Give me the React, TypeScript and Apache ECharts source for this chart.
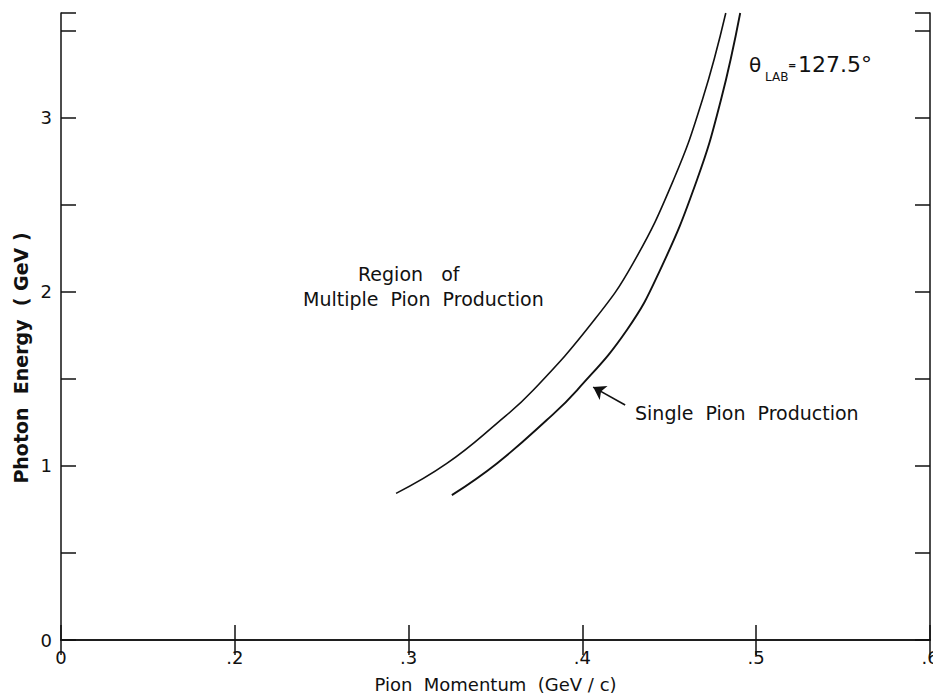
import React, { useEffect, useRef } from "react";
import * as echarts from "echarts";

// Threshold curves (pion momentum GeV/c, photon energy GeV)
const multiMomentum = [0.2928, 0.322, 0.3508, 0.3718, 0.4068, 0.4292, 0.4524, 0.469, 0.4825];
const multiEnergy = [0.842, 1.014, 1.244, 1.435, 1.837, 2.164, 2.641, 3.1, 3.6];
const singleMomentum = [0.3249, 0.3508, 0.3795, 0.397, 0.4256, 0.4447, 0.4659, 0.4797, 0.4908];
const singleEnergy = [0.832, 1.014, 1.263, 1.435, 1.78, 2.124, 2.641, 3.1, 3.6];

// Axis tick labels (suppressed-zero momentum axis: first tick labelled "0")
const momentumTicks = [0.1, 0.2, 0.3, 0.4, 0.5, 0.6];
const momentumTickLabels = ["0", ".2", ".3", ".4", ".5", ".6"];
const energyTickLabels = ["0", "1", "2", "3"];

// Arrow pointing at the single pion production curve
const arrowFrom = [0.4246, 1.349];
const arrowTo = [0.4062, 1.452];

const FONT = "DejaVu Sans";
const INK = "#111";

export default function App() {
  const ref = useRef<HTMLDivElement>(null);

  useEffect(() => {
    if (!ref.current) return;
    const chart = echarts.init(ref.current, undefined, { renderer: "svg" });

    const xFmt = (v: number) => {
      const i = momentumTicks.findIndex((t) => Math.abs(t - v) < 1e-6);
      return i >= 0 ? momentumTickLabels[i] : "";
    };
    const yFmt = (v: number) => {
      const r = Math.round(v);
      return Math.abs(v - r) < 1e-6 ? energyTickLabels[r] ?? "" : "";
    };

    const axisLine = { show: true, lineStyle: { color: INK, width: 1.5 } };
    const axisTick = { show: true, inside: true, length: 15, lineStyle: { color: INK, width: 1.5 } };

    chart.setOption({
      animation: false,
      backgroundColor: "#fff",
      grid: {
        left: 61,
        right: 3,
        top: 13,
        bottom: 56,
        containLabel: false,
        outerBoundsMode: "none",
      },
      xAxis: [
        {
          type: "value",
          min: 0.1,
          max: 0.6,
          interval: 0.1,
          position: "bottom",
          axisLine,
          axisTick,
          splitLine: { show: false },
          axisLabel: { formatter: xFmt, color: INK, fontSize: 18, fontFamily: FONT, margin: 8 },
          name: "Pion  Momentum  (GeV / c)",
          nameLocation: "middle",
          nameGap: 35,
          nameTextStyle: { color: INK, fontSize: 18, fontFamily: FONT },
        },
        {
          type: "value",
          min: 0.1,
          max: 0.6,
          interval: 0.1,
          position: "top",
          axisLine,
          axisTick,
          splitLine: { show: false },
          axisLabel: { show: false },
        },
      ],
      yAxis: [
        {
          type: "value",
          min: 0,
          max: 3.6,
          interval: 0.5,
          position: "left",
          axisLine,
          axisTick,
          splitLine: { show: false },
          axisLabel: { formatter: yFmt, color: INK, fontSize: 18, fontFamily: FONT, margin: 9 },
        },
        {
          type: "value",
          min: 0,
          max: 3.6,
          interval: 0.5,
          position: "right",
          axisLine,
          axisTick,
          splitLine: { show: false },
          axisLabel: { show: false },
        },
      ],
      series: [
        {
          name: "Multiple pion threshold",
          type: "line",
          data: multiMomentum.map((p, i) => [p, multiEnergy[i]]),
          smooth: 0.45,
          showSymbol: false,
          symbol: "none",
          lineStyle: { color: INK, width: 1.6 },
          silent: true,
        },
        {
          name: "Single pion production",
          type: "line",
          data: singleMomentum.map((p, i) => [p, singleEnergy[i]]),
          smooth: 0.45,
          showSymbol: false,
          symbol: "none",
          lineStyle: { color: INK, width: 1.9 },
          silent: true,
          markLine: {
            silent: true,
            symbol: ["none", "arrow"],
            symbolSize: 12,
            label: { show: false },
            lineStyle: { color: INK, width: 1.6, type: "solid" },
            emphasis: { disabled: true },
            data: [[{ coord: arrowFrom }, { coord: arrowTo }]],
          },
        },
      ],
      graphic: [
        {
          type: "text",
          x: 21,
          y: 358,
          rotation: Math.PI / 2,
          style: {
            text: "Photon  Energy  ( GeV )",
            fill: INK,
            font: `bold 19px "${FONT}"`,
            align: "center",
            verticalAlign: "middle",
          },
        },
        {
          type: "text",
          left: 358,
          top: 264,
          style: { text: "Region   of", fill: INK, font: `19px "${FONT}"` },
        },
        {
          type: "text",
          left: 303,
          top: 289,
          style: { text: "Multiple  Pion  Production", fill: INK, font: `19px "${FONT}"` },
        },
        {
          type: "text",
          left: 635,
          top: 403,
          style: { text: "Single  Pion  Production", fill: INK, font: `19px "${FONT}"` },
        },
        {
          type: "text",
          left: 749,
          top: 55,
          style: { text: "θ", fill: INK, font: `20px "${FONT}"` },
        },
        {
          type: "text",
          left: 765,
          top: 71,
          style: { text: "LAB", fill: INK, font: `12px "${FONT}"` },
        },
        {
          type: "text",
          left: 788,
          top: 60,
          style: { text: "=", fill: INK, font: `bold 10px "${FONT}"` },
        },
        {
          type: "text",
          left: 798,
          top: 53,
          style: { text: "127.5°", fill: INK, font: `22px "${FONT}"` },
        },
      ],
    });

    return () => chart.dispose();
  }, []);

  return (
    <div
      ref={ref}
      style={{ position: "fixed", left: 0, top: 0, width: 933, height: 696, background: "#fff" }}
    />
  );
}
